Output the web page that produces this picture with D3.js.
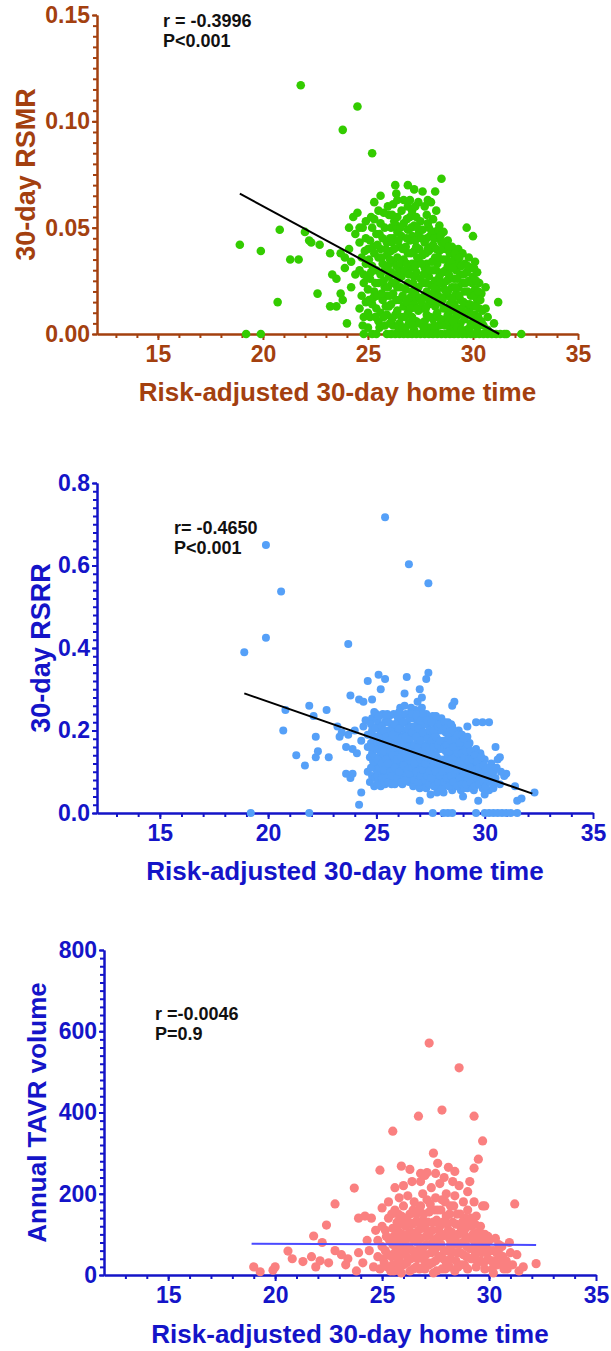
<!DOCTYPE html>
<html>
<head>
<meta charset="utf-8">
<script src="https://cdn.jsdelivr.net/npm/d3@7"></script>
<style>
  body { margin: 0; background: #fff; }
  svg { display: block; font-family: "Liberation Sans", Arial, sans-serif; font-weight: bold; }
</style>
</head>
<body>
<script>
// x values are risk-adjusted 30-day home time, y the outcome
const xTicks = [15, 20, 25, 30, 35];

const rsmrTicks = [0, 0.05, 0.10, 0.15];
const rsmrStats = ['r = -0.3996', 'P<0.001'];
const rsmrFit = [[18.9, 0.066], [31.25, 0.0]];
const rsmrPoints = [
  [18.9,0.042],[19.2,0],[19.9,0.039],[19.9,0],[20.7,0.015],[20.8,0.049],[21.3,0.035],[21.7,0.035],[21.8,0.117],
  [22.0,0.048],[22.2,0.044],[22.3,0.043],[22.6,0.019],[22.7,0.042],[23.2,0.038],[23.2,0.013],[23.3,0.028],
  [23.5,0.026],[23.5,0.013],[23.7,0.038],[23.7,0.019],[23.8,0.096],[23.8,0.016],[23.9,0.036],[23.9,0.031],
  [24.0,0.005],[24.1,0.050],[24.1,0.040],[24.2,0.034],[24.3,0.055],[24.4,0.047],[24.5,0.107],[24.5,0.057],
  [24.6,0.050],[24.2,0.022],[24.4,0.028],
  [24.6,0.043],[24.7,0.036],[24.6,0.030],[24.8,0.024],[24.7,0.018],[24.6,0.012],[24.8,0.008],[24.8,0],
  [24.9,0.053],[24.9,0.045],[24.9,0.033],[24.8,0.028],[24.9,0.015],[25.0,0.040],[25.0,0.021],[25.0,0.010],[25.0,0.003],
  [25.2,0.085],[25.3,0.062],[25.5,0.058],[25.2,0.050],[25.1,0.044],[25.3,0.038],[25.2,0.032],[25.1,0.026],
  [25.3,0.020],[25.2,0.014],[25.1,0.008],[25.2,0],[25.4,0],[25.4,0.047],[25.4,0.030],[25.4,0.012],[25.5,0.036],
  [25.5,0.024],[25.5,0.006],[25.3,0.054],
  [25.6,0.065],[25.6,0.052],[25.7,0.045],[25.6,0.040],[25.7,0.033],[25.6,0.028],[25.8,0.022],[25.7,0.016],
  [25.6,0.010],[25.8,0.004],[25.9,0],[25.8,0.050],[25.9,0.043],[25.9,0.037],[25.8,0.030],[25.9,0.018],
  [25.9,0.009],[26.0,0.056],[26.0,0.027],[26.0,0.013],
  [26.3,0.070],[26.2,0.061],[26.1,0.050],[26.2,0.045],[26.1,0.039],[26.2,0.034],[26.1,0.029],[26.3,0.024],
  [26.2,0.019],[26.1,0.014],[26.3,0.009],[26.2,0.004],[26.1,0],[26.3,0],[26.4,0.063],[26.4,0.055],[26.4,0.048],
  [26.5,0.041],[26.4,0.036],[26.5,0.030],[26.4,0.022],[26.5,0.016],[26.4,0.011],[26.5,0.005],[26.5,0],
  [26.7,0.063],[26.6,0.058],[26.7,0.052],[26.6,0.046],[26.8,0.041],[26.7,0.035],[26.6,0.027],[26.8,0.021],
  [26.7,0.013],[26.6,0.008],[26.8,0.003],[26.7,0],[26.9,0.070],[26.9,0.060],[26.9,0.049],[26.9,0.038],
  [27.0,0.031],[26.9,0.024],[27.0,0.017],[26.9,0.010],[27.0,0.005],[26.9,0],[27.0,0.063],[27.0,0.055],[27.0,0.044],
  [27.2,0.068],[27.1,0.058],[27.2,0.051],[27.1,0.046],[27.2,0.039],[27.1,0.033],[27.2,0.027],[27.1,0.020],
  [27.2,0.014],[27.1,0.008],[27.2,0.002],[27.1,0],[27.3,0],[27.4,0.062],[27.3,0.055],[27.4,0.047],[27.3,0.041],
  [27.4,0.035],[27.3,0.029],[27.4,0.022],[27.3,0.017],[27.4,0.011],[27.3,0.006],[27.5,0],[27.5,0.053],[27.5,0.026],
  [27.6,0.067],[27.7,0.060],[27.6,0.049],[27.7,0.043],[27.6,0.037],[27.7,0.031],[27.6,0.024],[27.7,0.018],
  [27.6,0.012],[27.7,0.006],[27.7,0],[27.8,0.056],[27.9,0.050],[27.8,0.045],[27.9,0.039],[27.8,0.033],
  [27.9,0.027],[27.8,0.020],[27.9,0.014],[27.8,0.009],[27.9,0.003],[27.9,0],[28.0,0.062],[28.0,0.041],[28.0,0.023],
  [28.2,0.067],[28.1,0.054],[28.2,0.048],[28.1,0.042],[28.2,0.036],[28.1,0.030],[28.2,0.025],[28.1,0.019],
  [28.2,0.013],[28.1,0.007],[28.2,0.002],[28.1,0],[28.3,0],[28.4,0.051],[28.3,0.045],[28.4,0.039],[28.3,0.033],
  [28.4,0.027],[28.3,0.021],[28.4,0.015],[28.3,0.010],[28.4,0.004],[28.5,0],[28.5,0.073],[28.5,0.043],
  [28.6,0.048],[28.7,0.040],[28.6,0.035],[28.7,0.030],[28.6,0.024],[28.7,0.018],[28.6,0.012],[28.7,0.007],
  [28.7,0],[28.8,0.044],[28.9,0.038],[28.8,0.032],[28.9,0.026],[28.8,0.020],[28.9,0.014],[28.8,0.009],
  [28.9,0.003],[28.9,0],[29.0,0.041],[29.0,0.022],[29.0,0.011],
  [29.1,0.035],[29.2,0.030],[29.1,0.026],[29.2,0.019],[29.1,0.014],[29.2,0.008],[29.1,0.003],[29.1,0],
  [29.3,0.040],[29.3,0.033],[29.4,0.028],[29.3,0.022],[29.4,0.016],[29.3,0.011],[29.4,0.005],[29.3,0],
  [29.5,0],[29.5,0.038],[29.5,0.024],[29.5,0.009],
  [29.7,0.050],[29.6,0.033],[29.7,0.029],[29.6,0.020],[29.7,0.014],[29.6,0.007],[29.7,0.002],[29.7,0],
  [29.8,0.036],[29.9,0.031],[29.8,0.025],[29.9,0.018],[29.8,0.011],[29.9,0.005],[29.9,0],[30.0,0.046],
  [30.0,0.027],[30.0,0.013],
  [30.1,0.034],[30.2,0.029],[30.1,0.021],[30.2,0.016],[30.1,0.009],[30.2,0.003],[30.1,0],[30.3,0],
  [30.3,0.024],[30.4,0.019],[30.3,0.012],[30.4,0.006],[30.5,0],[30.6,0.022],[30.6,0.012],[30.7,0.008],
  [30.7,0.002],[30.7,0],[30.9,0],[31.0,0.005],[31.1,0],[31.2,0.015],[31.3,0],[31.5,0],[31.6,0],[32.3,0],
  // dense core, second pass
  [24.75,0.050],[24.85,0.039],[24.95,0.027],[24.75,0.004],[25.05,0.035],[25.05,0.016],[25.15,0.055],[25.25,0.041],
  [25.15,0.029],[25.35,0.024],[25.25,0.017],[25.35,0.008],[25.45,0.042],[25.45,0.018],[25.55,0.003],
  [25.55,0.047],[25.65,0.036],[25.75,0.025],[25.65,0.019],[25.75,0.008],[25.85,0.040],[25.85,0.013],[25.95,0.032],
  [25.95,0.022],[26.05,0.045],[26.05,0.035],[26.05,0.018],[26.05,0.005],[25.75,0.057],[25.95,0.060],
  [26.15,0.043],[26.25,0.040],[26.15,0.024],[26.25,0.028],[26.15,0.007],[26.35,0.051],[26.35,0.032],[26.35,0.016],
  [26.45,0.044],[26.45,0.026],[26.45,0.003],[26.25,0.053],[26.15,0.056],[26.35,0.066],
  [26.55,0.050],[26.65,0.040],[26.55,0.033],[26.75,0.030],[26.65,0.018],[26.75,0.008],[26.85,0.054],[26.85,0.045],
  [26.85,0.033],[26.85,0.015],[26.95,0.028],[26.95,0.005],[26.65,0.003],[26.55,0.022],
  [27.05,0.050],[27.05,0.038],[27.15,0.024],[27.05,0.012],[27.15,0.004],[27.25,0.044],[27.25,0.032],[27.25,0.019],
  [27.35,0.050],[27.35,0.036],[27.35,0.012],[27.45,0.040],[27.45,0.017],[27.45,0.005],[27.25,0.060],
  [27.55,0.045],[27.55,0.033],[27.65,0.028],[27.55,0.015],[27.65,0.003],[27.75,0.038],[27.75,0.024],[27.75,0.012],
  [27.85,0.052],[27.85,0.040],[27.85,0.017],[27.95,0.046],[27.95,0.030],[27.95,0.008],[27.85,0.063],
  [28.05,0.048],[28.05,0.034],[28.05,0.016],[28.15,0.045],[28.15,0.022],[28.15,0.004],[28.25,0.040],[28.25,0.030],
  [28.25,0.009],[28.35,0.049],[28.35,0.036],[28.35,0.018],[28.45,0.046],[28.45,0.024],[28.45,0.007],[28.25,0.058],
  [28.55,0.040],[28.55,0.029],[28.55,0.016],[28.65,0.043],[28.65,0.021],[28.65,0.004],[28.75,0.035],[28.75,0.025],
  [28.75,0.012],[28.85,0.041],[28.85,0.028],[28.85,0.006],[28.95,0.034],[28.95,0.017],[28.95,0.007],
  [29.05,0.031],[29.05,0.017],[29.05,0.006],[29.15,0.038],[29.15,0.022],[29.25,0.026],[29.25,0.012],[29.25,0.003],
  [29.35,0.036],[29.35,0.018],[29.45,0.032],[29.45,0.012],[29.45,0.002],
  [29.55,0.028],[29.55,0.015],[29.65,0.024],[29.65,0.010],[29.75,0.032],[29.75,0.020],[29.85,0.014],[29.85,0.003],
  [29.95,0.024],[29.95,0.009],[30.05,0.031],[30.05,0.018],[30.05,0.006],[30.15,0.025],[30.15,0.013],[30.25,0.020],
  [30.25,0.008],[30.35,0.016],[30.45,0.011],[30.5,0.004]
];

const rsrrTicks = [0, 0.2, 0.4, 0.6, 0.8];
const rsrrStats = ['r= -0.4650', 'P<0.001'];
const rsrrFit = [[18.9, 0.29], [32.2, 0.047]];
const rsrrPoints = [
  [18.9,0.39],[19.2,0],[19.9,0.65],[19.9,0.425],[20.6,0.537],[20.7,0.2],[20.8,0.25],[21.3,0.14],[21.7,0.115],
  [21.9,0.26],[21.9,0],[22.1,0.235],[22.2,0.185],[22.2,0.135],[22.3,0.15],[22.7,0.25],[22.8,0.135],[23.2,0.21],
  [23.3,0.185],[23.4,0.195],[23.6,0.16],[23.6,0.095],[23.7,0.41],[23.7,0.19],[23.8,0.285],[23.8,0.085],
  [23.9,0.155],[23.9,0.095],[24.0,0.2],[24.1,0.145],[24.2,0.275],[24.2,0.02],[24.3,0.05],[24.4,0.27],
  [24.4,0.21],[24.3,0.175],
  [24.6,0.32],[24.8,0.275],[25.1,0.335],[25.2,0.30],[25.4,0.325],[25.4,0.717],[26.3,0.29],[26.4,0.33],
  [26.5,0.603],[27.0,0.30],[27.3,0.325],[27.4,0.34],[27.4,0.557],[26.9,0.27],[27.1,0.28],[28.5,0.26],[28.6,0.27],
  [24.5,0.225],[24.6,0.19],[24.6,0.16],[24.7,0.135],[24.6,0.10],[24.7,0.075],[24.8,0.23],[24.8,0.2],[24.9,0.17],
  [24.8,0.145],[24.9,0.12],[24.8,0.09],[24.9,0.065],[25.0,0.24],[25.0,0.185],[25.0,0.155],[25.0,0.105],[24.9,0.245],
  [25.1,0.215],[25.2,0.195],[25.1,0.17],[25.2,0.145],[25.1,0.125],[25.2,0.10],[25.1,0.08],[25.2,0.065],
  [25.3,0.24],[25.4,0.22],[25.3,0.18],[25.4,0.16],[25.3,0.135],[25.4,0.115],[25.3,0.09],[25.4,0.07],
  [25.5,0.2],[25.5,0.145],[25.5,0.1],[25.5,0.24],
  [25.6,0.235],[25.7,0.215],[25.6,0.185],[25.7,0.165],[25.6,0.13],[25.7,0.11],[25.6,0.085],[25.7,0.07],
  [25.8,0.24],[25.9,0.2],[25.8,0.18],[25.9,0.155],[25.8,0.125],[25.9,0.1],[25.8,0.08],[26.0,0.225],
  [26.0,0.19],[26.0,0.14],[26.0,0.115],[26.0,0.075],
  [26.1,0.255],[26.2,0.235],[26.1,0.21],[26.2,0.185],[26.1,0.165],[26.2,0.145],[26.1,0.125],[26.2,0.1],
  [26.1,0.085],[26.2,0.07],[26.3,0.26],[26.4,0.22],[26.3,0.2],[26.4,0.175],[26.3,0.155],[26.4,0.13],
  [26.3,0.11],[26.4,0.09],[26.5,0.075],[26.5,0.24],[26.5,0.195],[26.5,0.15],[26.5,0.12],
  [26.6,0.255],[26.7,0.23],[26.6,0.21],[26.7,0.185],[26.6,0.165],[26.7,0.145],[26.6,0.125],[26.7,0.1],
  [26.6,0.085],[26.7,0.065],[26.8,0.25],[26.9,0.22],[26.8,0.2],[26.9,0.175],[26.8,0.155],[26.9,0.13],
  [26.8,0.11],[26.9,0.09],[27.0,0.06],[27.0,0.03],[27.0,0.24],[27.0,0.19],[27.0,0.145],[27.0,0.115],
  [27.1,0.255],[27.2,0.23],[27.1,0.21],[27.2,0.185],[27.1,0.165],[27.2,0.14],[27.1,0.12],[27.2,0.1],
  [27.1,0.08],[27.2,0.065],[27.3,0.24],[27.4,0.215],[27.3,0.195],[27.4,0.17],[27.3,0.15],[27.4,0.125],
  [27.3,0.105],[27.4,0.085],[27.3,0.06],[27.5,0.045],[27.5,0.2],[27.5,0.155],[27.5,0.11],
  [27.6,0.235],[27.7,0.215],[27.6,0.19],[27.7,0.17],[27.6,0.145],[27.7,0.125],[27.6,0.1],[27.7,0.08],
  [27.6,0],[27.8,0.225],[27.9,0.2],[27.8,0.18],[27.9,0.155],[27.8,0.135],[27.9,0.11],[27.8,0.09],
  [27.9,0.065],[27.8,0.05],[28.0,0.23],[28.0,0.17],[28.0,0.12],[28.0,0.075],
  [28.1,0.215],[28.2,0.195],[28.1,0.175],[28.2,0.15],[28.1,0.13],[28.2,0.11],[28.1,0.09],[28.2,0.07],
  [28.1,0],[28.3,0],[28.1,0.05],[28.3,0.22],[28.4,0.2],[28.3,0.18],[28.4,0.16],[28.3,0.14],[28.4,0.115],
  [28.3,0.095],[28.4,0.075],[28.5,0.055],[28.5,0],[28.5,0.21],[28.5,0.135],
  [28.6,0.19],[28.7,0.17],[28.6,0.15],[28.7,0.125],[28.6,0.105],[28.7,0.085],[28.6,0.065],[28.8,0.2],
  [28.9,0.18],[28.8,0.155],[28.9,0.135],[28.8,0.115],[28.9,0.095],[28.8,0.075],[28.9,0.055],[29.0,0.165],
  [29.0,0.12],[29.0,0.04],[29.0,0.08],
  [29.2,0.21],[29.2,0.185],[29.1,0.16],[29.2,0.14],[29.1,0.12],[29.2,0.1],[29.1,0.08],[29.2,0.06],
  [29.3,0.17],[29.4,0.15],[29.3,0.13],[29.4,0.11],[29.3,0.09],[29.4,0.07],[29.5,0.055],[29.5,0.125],[29.5,0.095],
  [29.6,0.22],[29.6,0.155],[29.7,0.135],[29.6,0.115],[29.7,0.095],[29.6,0.075],[29.7,0.03],[29.6,0],
  [29.8,0.145],[29.9,0.22],[29.8,0.12],[29.9,0.1],[29.8,0.08],[29.9,0.06],[30.0,0.13],[30.0,0.09],
  [30.0,0.045],[30.0,0],
  [30.2,0.22],[30.1,0.11],[30.2,0.095],[30.1,0.075],[30.2,0.055],[30.2,0],[30.3,0.12],[30.4,0.1],
  [30.3,0.08],[30.4,0.06],[30.4,0],[30.5,0.16],[30.5,0.085],[30.6,0],[30.7,0.135],[30.7,0.07],[30.8,0],
  [30.9,0.09],[31.0,0.095],[31.0,0],[31.2,0],[31.4,0.065],[31.5,0.03],[31.5,0],[31.7,0.035],[32.3,0.05],
  // dense core, second pass
  [24.75,0.215],[24.75,0.17],[24.75,0.11],[24.85,0.185],[24.85,0.16],[24.85,0.125],[24.95,0.205],[24.95,0.135],
  [24.95,0.085],[25.05,0.225],[25.05,0.17],[25.05,0.13],[25.05,0.09],[25.05,0.07],
  [25.15,0.235],[25.15,0.185],[25.15,0.155],[25.15,0.11],[25.25,0.21],[25.25,0.165],[25.25,0.12],[25.25,0.085],
  [25.35,0.2],[25.35,0.15],[25.35,0.105],[25.35,0.075],[25.45,0.235],[25.45,0.185],[25.45,0.13],[25.45,0.085],
  [25.55,0.22],[25.55,0.175],[25.55,0.12],[25.55,0.075],[25.65,0.2],[25.65,0.15],[25.65,0.1],[25.75,0.19],
  [25.75,0.14],[25.75,0.09],[25.85,0.215],[25.85,0.165],[25.85,0.11],[25.85,0.07],[25.95,0.235],[25.95,0.18],
  [25.95,0.13],[25.95,0.085],
  [26.05,0.245],[26.05,0.205],[26.05,0.16],[26.05,0.1],[26.15,0.23],[26.15,0.18],[26.15,0.135],[26.15,0.075],
  [26.25,0.22],[26.25,0.165],[26.25,0.115],[26.35,0.24],[26.35,0.185],[26.35,0.14],[26.35,0.08],[26.45,0.205],
  [26.45,0.16],[26.45,0.105],
  [26.55,0.23],[26.55,0.18],[26.55,0.135],[26.55,0.095],[26.65,0.24],[26.65,0.195],[26.65,0.155],[26.65,0.11],
  [26.75,0.21],[26.75,0.165],[26.75,0.12],[26.75,0.08],[26.85,0.235],[26.85,0.185],[26.85,0.14],[26.85,0.1],
  [26.95,0.205],[26.95,0.16],[26.95,0.075],
  [27.05,0.225],[27.05,0.175],[27.05,0.13],[27.05,0.09],[27.15,0.24],[27.15,0.195],[27.15,0.15],[27.15,0.105],
  [27.25,0.215],[27.25,0.16],[27.25,0.12],[27.25,0.08],[27.35,0.225],[27.35,0.18],[27.35,0.135],[27.35,0.09],
  [27.45,0.2],[27.45,0.155],[27.45,0.1],[27.45,0.07],
  [27.55,0.22],[27.55,0.175],[27.55,0.13],[27.55,0.085],[27.65,0.2],[27.65,0.16],[27.65,0.11],[27.65,0.065],
  [27.75,0.235],[27.75,0.185],[27.75,0.14],[27.75,0.1],[27.85,0.21],[27.85,0.165],[27.85,0.12],[27.85,0.075],
  [27.95,0.215],[27.95,0.175],[27.95,0.13],[27.95,0.09],
  [28.05,0.2],[28.05,0.155],[28.05,0.1],[28.05,0.06],[28.15,0.22],[28.15,0.16],[28.15,0.115],[28.15,0.075],
  [28.25,0.205],[28.25,0.165],[28.25,0.125],[28.25,0.085],[28.35,0.195],[28.35,0.15],[28.35,0.105],[28.35,0.065],
  [28.45,0.215],[28.45,0.175],[28.45,0.13],[28.45,0.09],
  [28.55,0.2],[28.55,0.16],[28.55,0.115],[28.55,0.075],[28.65,0.18],[28.65,0.135],[28.65,0.095],[28.75,0.19],
  [28.75,0.145],[28.75,0.105],[28.75,0.065],[28.85,0.17],[28.85,0.125],[28.85,0.085],[28.95,0.19],[28.95,0.145],
  [28.95,0.105],[28.95,0.07],
  [29.05,0.18],[29.05,0.135],[29.05,0.095],[29.05,0.06],[29.15,0.15],[29.15,0.11],[29.15,0.07],[29.25,0.165],
  [29.25,0.125],[29.25,0.085],[29.35,0.15],[29.35,0.11],[29.35,0.075],[29.45,0.13],[29.45,0.09],[29.45,0.06],
  [29.55,0.14],[29.55,0.105],[29.55,0.065],[29.65,0.125],[29.65,0.085],[29.75,0.11],[29.75,0.07],[29.85,0.135],
  [29.85,0.095],[29.95,0.115],[29.95,0.075],[30.05,0.105],[30.05,0.065],[30.15,0.09],[30.25,0.11],[30.25,0.075],
  [30.35,0.1],[30.45,0.075],[30.55,0.11],[30.6,0.13],[30.75,0.1]
];

const tavrTicks = [0, 200, 400, 600, 800];
const tavrStats = ['r =-0.0046', 'P=0.9'];
const tavrFit = [[18.9, 77], [32.2, 74]];
const tavrPoints = [
  [19.0,20],[19.3,8],[19.9,12],[20.0,20],[20.6,59],[20.8,40],[21.3,33],[21.7,45],[21.8,96],[21.9,20],
  [22.1,35],[22.2,80],[22.4,123],[22.5,30],[22.8,175],[22.8,60],[23.1,50],[23.3,25],[23.4,40],[23.7,214],
  [23.8,10],[23.9,140],[23.9,55],[24.2,145],[24.3,85],[24.1,30],[24.5,140],[24.4,60],[24.6,20],[24.8,85],
  [24.9,258],[25.5,354],[25.9,268],[26.3,260],[26.7,391],[26.8,250],[27.1,252],[27.2,571],[27.4,300],
  [27.6,275],[27.8,406],[28.1,265],[28.4,255],[28.6,510],[29.3,391],[29.3,263],[29.5,285],[29.7,330],
  [29.7,170],[29.8,170],[31.2,175],
  [24.7,110],[24.8,45],[24.9,15],[25.0,165],[25.0,120],[25.0,70],[25.1,30],[25.2,95],[25.3,180],[25.3,140],
  [25.3,50],[25.4,10],[25.5,115],[25.5,75],[25.5,25],
  [25.6,215],[25.6,160],[25.7,130],[25.7,90],[25.6,55],[25.7,20],[25.8,190],[25.9,145],[25.8,105],[25.9,70],
  [25.8,40],[25.9,5],[26.0,220],[26.0,170],[26.1,120],[26.0,85],[26.1,50],[26.0,25],[26.2,195],[26.3,150],
  [26.2,100],[26.3,65],[26.2,35],[26.3,10],[26.4,230],[26.4,125],[26.5,180],[26.5,85],[26.5,45],
  [26.6,150],[26.7,110],[26.6,20],[26.7,60],[26.8,230],[26.9,200],[26.8,170],[26.9,135],[26.8,90],[26.9,40],
  [27.0,245],[27.0,115],[27.1,75],[27.0,15],[27.1,185],[27.2,155],[27.2,100],[27.3,215],[27.3,55],[27.2,25],
  [27.4,130],[27.4,85],[27.5,250],[27.5,190],[27.5,35],[27.4,5],
  [27.6,160],[27.7,120],[27.6,70],[27.7,225],[27.8,185],[27.8,95],[27.7,45],[27.8,15],[27.9,240],[28.0,145],
  [27.9,60],[28.0,200],[28.1,110],[28.0,30],[28.2,170],[28.2,75],[28.3,230],[28.3,130],[28.2,40],[28.4,195],
  [28.4,90],[28.4,10],[28.5,150],[28.5,55],
  [28.6,220],[28.7,115],[28.6,75],[28.7,25],[28.8,180],[28.9,140],[28.8,50],[28.9,95],[29.0,205],[29.0,160],
  [29.1,65],[29.0,15],[29.2,120],[29.1,230],[29.2,40],[29.3,180],[29.4,145],[29.3,85],[29.4,20],[29.5,105],[29.5,60],
  [29.6,120],[29.7,85],[29.6,35],[29.8,100],[29.9,55],[29.8,15],[30.0,85],[30.1,35],[30.2,60],[30.3,90],
  [30.2,5],[30.4,25],[30.5,50],[30.6,70],[30.7,15],[30.8,35],[31.0,55],[31.1,25],[31.3,50],[31.4,10],
  [31.6,20],[32.2,28],
  // dense core, second pass
  [25.05,40],[25.15,110],[25.15,60],[25.25,20],[25.35,85],[25.45,45],[25.45,150],[25.55,95],[25.55,10],
  [25.65,115],[25.65,75],[25.75,40],[25.75,150],[25.85,60],[25.85,20],[25.95,100],[25.95,125],[26.05,60],
  [26.05,140],[26.15,90],[26.15,30],[26.25,130],[26.25,70],[26.35,40],[26.35,105],[26.45,60],[26.45,15],[26.45,160],
  [26.55,130],[26.55,100],[26.65,80],[26.65,40],[26.75,165],[26.75,130],[26.75,15],[26.85,60],[26.85,115],
  [26.95,150],[26.95,70],[26.95,20],[27.05,95],[27.05,50],[27.15,130],[27.15,30],[27.25,75],[27.25,175],
  [27.35,110],[27.35,30],[27.45,160],[27.45,60],
  [27.55,135],[27.55,90],[27.55,10],[27.65,110],[27.65,45],[27.75,160],[27.75,75],[27.85,130],[27.85,40],
  [27.95,100],[27.95,180],[27.95,15],[28.05,125],[28.05,60],[28.15,90],[28.15,150],[28.15,20],[28.25,105],
  [28.25,55],[28.35,75],[28.35,170],[28.45,125],[28.45,35],
  [28.55,100],[28.55,20],[28.65,150],[28.65,55],[28.75,80],[28.75,130],[28.85,110],[28.85,25],[28.95,70],
  [28.95,45],[29.05,120],[29.05,90],[29.15,40],[29.15,140],[29.25,65],[29.25,100],[29.35,50],[29.35,125],
  [29.45,85],[29.45,35],
  [29.55,75],[29.65,100],[29.65,55],[29.75,30],[29.85,70],[29.95,40],[29.95,95],[30.05,60],[30.15,15],
  [30.25,35],[30.35,55],[30.45,75],[30.55,30],[30.65,45],[30.85,15],[30.95,80]
];

const BROWN = '#a3400f';
const NAVY = '#1414c8';

const svg = d3.select('body').append('svg')
  .attr('width', 611)
  .attr('height', 1351);

function drawPanel(p) {
  const x = d3.scaleLinear().domain(p.xDomain).range(p.xRange);
  const y = d3.scaleLinear().domain(p.yDomain).range(p.yRange);
  const g = svg.append('g');
  const y0 = p.yRange[0], x0 = p.xRange[0];

  // minor ticks first, no labels
  g.append('g')
    .attr('transform', `translate(0,${y0})`)
    .call(d3.axisBottom(x).tickValues(d3.range(13, 35)).tickSize(4).tickSizeOuter(0).tickFormat(''));
  g.append('g')
    .attr('transform', `translate(${x0},0)`)
    .call(d3.axisLeft(y).tickValues(d3.range(0, p.yDomain[1] + p.minor / 2, p.minor)).tickSize(4).tickSizeOuter(0).tickFormat(''));

  g.append('g')
    .attr('transform', `translate(0,${y0})`)
    .call(d3.axisBottom(x).tickValues(xTicks).tickSize(6).tickPadding(6).tickSizeOuter(0));
  g.append('g')
    .attr('transform', `translate(${x0},0)`)
    .call(d3.axisLeft(y).tickValues(p.yTicks).tickSize(5).tickPadding(2).tickSizeOuter(0).tickFormat(p.fmt));

  g.selectAll('.domain, .tick line').attr('stroke', p.axisColor).attr('stroke-width', 2);
  g.selectAll('.tick text')
    .attr('fill', p.axisColor)
    .style('font-size', '23px')
    .style('font-family', '"Liberation Sans", Arial, sans-serif')
    .style('font-weight', 'bold');

  g.append('text')
    .attr('x', (p.xRange[0] + p.xRange[1]) / 2)
    .attr('y', p.xTitleY)
    .attr('text-anchor', 'middle')
    .attr('fill', p.axisColor)
    .style('font-size', '26px')
    .text('Risk-adjusted 30-day home time');

  g.append('text')
    .attr('transform', `translate(${p.yTitleX},${(p.yRange[0] + p.yRange[1]) / 2}) rotate(-90)`)
    .attr('text-anchor', 'middle')
    .attr('fill', p.axisColor)
    .style('font-size', p.yTitleSize)
    .text(p.yTitle);

  g.append('g').selectAll('circle')
    .data(p.points)
    .join('circle')
    .attr('cx', d => x(d[0]))
    .attr('cy', d => y(d[1]))
    .attr('r', p.r)
    .attr('fill', p.dotColor);

  g.append('path')
    .datum(p.fit)
    .attr('d', d3.line().x(d => x(d[0])).y(d => y(d[1])))
    .attr('fill', 'none')
    .attr('stroke', p.fitColor)
    .attr('stroke-width', 2);

  g.append('text')
    .attr('x', p.statsX)
    .attr('y', p.statsY)
    .attr('fill', '#111')
    .style('font-size', '18px')
    .selectAll('tspan')
    .data(p.stats)
    .join('tspan')
    .attr('x', p.statsX)
    .attr('dy', (d, i) => i ? 20 : 0)
    .text(d => d);
}

drawPanel({
  xDomain: [12.1, 35], xRange: [97, 578],
  yDomain: [0, 0.15], yRange: [334, 15], yTicks: rsmrTicks, minor: 0.005,
  fmt: d3.format('.2f'), axisColor: BROWN,
  xTitleY: 401, yTitle: '30-day RSMR', yTitleX: 35, yTitleSize: '27px',
  points: rsmrPoints, r: 4.3, dotColor: '#33cc00',
  fit: rsmrFit, fitColor: '#000',
  stats: rsmrStats, statsX: 163, statsY: 27
});

drawPanel({
  xDomain: [12.1, 35], xRange: [97, 593],
  yDomain: [0, 0.8], yRange: [813, 483], yTicks: rsrrTicks, minor: 0.02,
  fmt: d3.format('.1f'), axisColor: NAVY,
  xTitleY: 880, yTitle: '30-day RSRR', yTitleX: 50, yTitleSize: '27px',
  points: rsrrPoints, r: 4, dotColor: '#55a0f8',
  fit: rsrrFit, fitColor: '#000',
  stats: rsrrStats, statsX: 174, statsY: 534
});

drawPanel({
  xDomain: [12, 35], xRange: [104, 596],
  yDomain: [0, 800], yRange: [1275, 950], yTicks: tavrTicks, minor: 20,
  fmt: d3.format('d'), axisColor: NAVY,
  xTitleY: 1343, yTitle: 'Annual TAVR volume', yTitleX: 46, yTitleSize: '26px',
  points: tavrPoints, r: 4.6, dotColor: '#fa8080',
  fit: tavrFit, fitColor: '#4a4aff',
  stats: tavrStats, statsX: 155, statsY: 1020
});
</script>
</body>
</html>
